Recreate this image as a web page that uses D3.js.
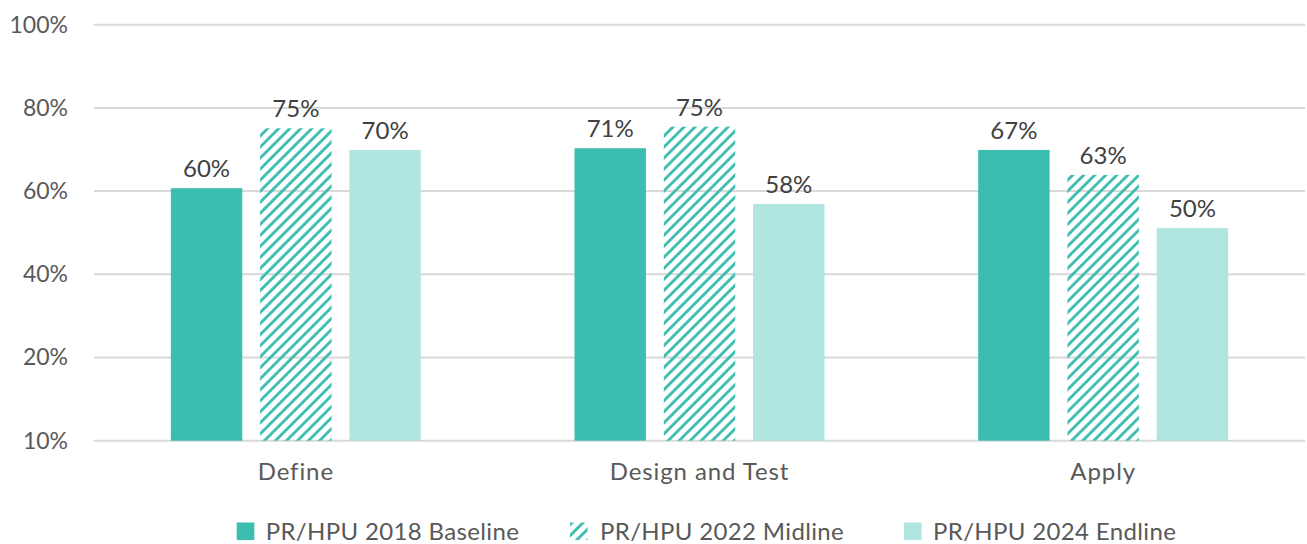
<!DOCTYPE html>
<html>
<head>
<meta charset="utf-8">
<script src="https://cdn.jsdelivr.net/npm/d3@7"></script>
<style>
  body { margin: 0; background: #fff; }
  svg text { font-family: Lato, "Open Sans", sans-serif; }
</style>
</head>
<body>
<div id="chart"></div>
<script>
// data
var categories = ["Define", "Design and Test", "Apply"];
var seriesNames = ["PR/HPU 2018 Baseline", "PR/HPU 2022 Midline", "PR/HPU 2024 Endline"];
// bar heights as drawn
var baseline = [60.7, 70.3, 69.9];
var midline = [75.1, 75.5, 63.9];
var endline = [69.9, 56.9, 51.1];
// printed value labels
var baselineLabels = ["60%", "71%", "67%"];
var midlineLabels = ["75%", "75%", "63%"];
var endlineLabels = ["70%", "58%", "50%"];
var tickValues = [0, 20, 40, 60, 80, 100];
var tickLabels = ["10%", "20%", "40%", "60%", "80%", "100%"];

var width = 1307, height = 544;
var margin = {top: 24.7, right: 2, bottom: 103.3, left: 94};
var innerW = width - margin.left - margin.right,
    innerH = height - margin.top - margin.bottom;

var colors = ["#3bbdb0", "#3bbdb0", "#b1e5df"];

var svg = d3.select("#chart").append("svg")
    .attr("width", width)
    .attr("height", height);

// hatch pattern for midline
var defs = svg.append("defs");
defs.append("pattern")
    .attr("id", "hatch")
    .attr("patternUnits", "userSpaceOnUse")
    .attr("width", 7.8)
    .attr("height", 7.8)
    .attr("patternTransform", "rotate(45)")
  .append("line")
    .attr("x1", 1.5).attr("y1", 0)
    .attr("x2", 1.5).attr("y2", 7.8)
    .attr("stroke", "#3bbdb0")
    .attr("stroke-width", 2.8);

var g = svg.append("g")
    .attr("transform", "translate(" + margin.left + "," + margin.top + ")");

var x0 = d3.scaleBand().domain(categories).range([0, innerW]).padding(0);
var x1 = d3.scaleBand().domain(seriesNames).range([0, 250]).paddingInner(0.2).paddingOuter(0);
var y = d3.scaleLinear().domain([0, 100]).range([innerH, 0]);

// gridlines
g.append("g").selectAll("line")
    .data(tickValues)
    .enter().append("line")
    .attr("x1", 0)
    .attr("x2", innerW)
    .attr("y1", function(d) { return y(d); })
    .attr("y2", function(d) { return y(d); })
    .attr("stroke", "#d9d9d9")
    .attr("stroke-width", 2);

// y axis labels
var yAxis = d3.axisLeft(y)
    .tickValues(tickValues)
    .tickSize(0)
    .tickPadding(26)
    .tickFormat(function(d, i) { return tickLabels[i]; });
var ya = g.append("g").call(yAxis);
ya.select(".domain").remove();
ya.selectAll("text")
    .style("font-size", "23px")
    .attr("fill", "#595959");

var rows = categories.map(function(c, i) {
    return [
        {cat: c, s: seriesNames[0], v: baseline[i], lab: baselineLabels[i], k: 0},
        {cat: c, s: seriesNames[1], v: midline[i], lab: midlineLabels[i], k: 1},
        {cat: c, s: seriesNames[2], v: endline[i], lab: endlineLabels[i], k: 2}
    ];
});

var groups = g.selectAll(".grp")
    .data(rows)
    .enter().append("g")
    .attr("class", "grp")
    .attr("transform", function(d, i) {
        return "translate(" + (x0(categories[i]) + x0.bandwidth() / 2 - 125) + ",0)";
    });

groups.selectAll("rect")
    .data(function(d) { return d; })
    .enter().append("rect")
    .attr("x", function(d) { return x1(d.s); })
    .attr("width", x1.bandwidth())
    .attr("y", function(d) { return y(d.v); })
    .attr("height", function(d) { return innerH - y(d.v); })
    .attr("fill", function(d) { return d.k == 1 ? "url(#hatch)" : colors[d.k]; });

groups.selectAll("text.val")
    .data(function(d) { return d; })
    .enter().append("text")
    .attr("class", "val")
    .attr("x", function(d) { return x1(d.s) + x1.bandwidth() / 2; })
    .attr("y", function(d) { return y(d.v) - 11; })
    .attr("text-anchor", "middle")
    .style("font-size", "24px")
    .attr("fill", "#404040")
    .text(function(d) { return d.lab; });

// category labels
g.append("g").selectAll("text")
    .data(categories)
    .enter().append("text")
    .attr("x", function(d) { return x0(d) + x0.bandwidth() / 2; })
    .attr("y", innerH + 39.5)
    .attr("text-anchor", "middle")
    .style("font-size", "24px")
    .style("letter-spacing", "0.9px")
    .attr("fill", "#595959")
    .text(function(d) { return d; });

// legend
var legendX = [236.7, 570, 904];
var legend = svg.append("g").selectAll("g")
    .data(seriesNames)
    .enter().append("g")
    .attr("transform", function(d, i) { return "translate(" + legendX[i] + ",522.5)"; });

legend.append("rect")
    .attr("width", 17.6)
    .attr("height", 17.6)
    .attr("fill", function(d, i) { return i == 1 ? "url(#hatch)" : colors[i]; });

legend.append("text")
    .attr("x", function(d, i) { return i == 1 ? 30 : 29; })
    .attr("y", 17.5)
    .style("font-size", "24px")
    .style("letter-spacing", "0.35px")
    .attr("fill", "#595959")
    .text(function(d) { return d; });
</script>
</body>
</html>
